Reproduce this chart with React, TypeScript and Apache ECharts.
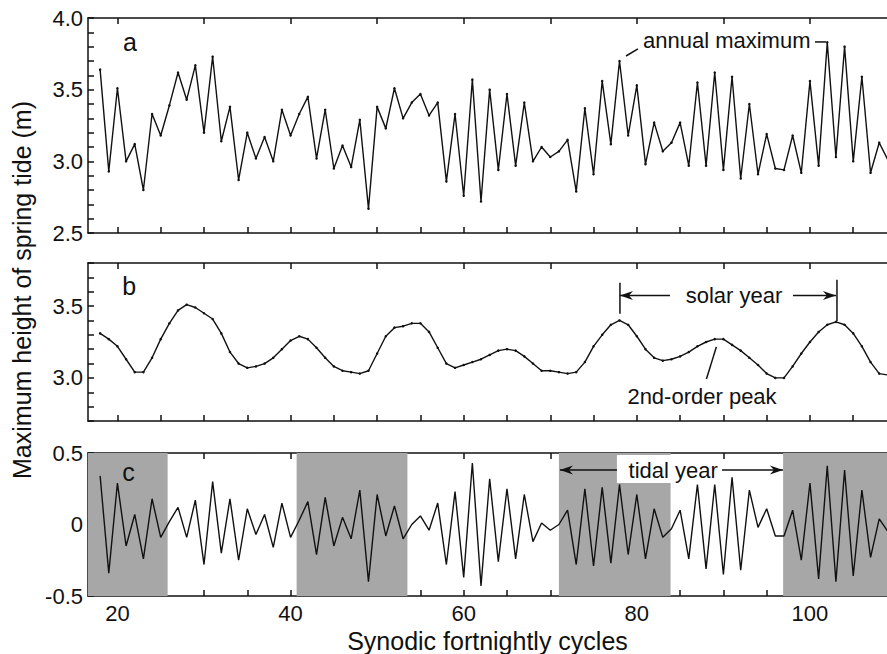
import React, { useEffect, useRef } from "react";
import * as echarts from "echarts";

// Synodic fortnightly cycle numbers (x values)
const cycles = [
  18, 19, 20, 21, 22, 23, 24, 25, 26, 27, 28, 29, 30, 31, 32, 33, 34, 35, 36, 37,
  38, 39, 40, 41, 42, 43, 44, 45, 46, 47, 48, 49, 50, 51, 52, 53, 54, 55, 56, 57,
  58, 59, 60, 61, 62, 63, 64, 65, 66, 67, 68, 69, 70, 71, 72, 73, 74, 75, 76, 77,
  78, 79, 80, 81, 82, 83, 84, 85, 86, 87, 88, 89, 90, 91, 92, 93, 94, 95, 96, 97,
  98, 99, 100, 101, 102, 103, 104, 105, 106, 107, 108, 109,
];

// Panel a: maximum height of spring tide (m)
const springMax = [
  3.64, 2.93, 3.51, 3.0, 3.12, 2.8, 3.33, 3.18, 3.39, 3.62, 3.43, 3.67, 3.2, 3.73, 3.14, 3.38,
  2.87, 3.2, 3.02, 3.17, 3.0, 3.36, 3.18, 3.33, 3.45, 3.02, 3.36, 2.95, 3.11, 2.96, 3.29, 2.67,
  3.38, 3.23, 3.51, 3.3, 3.41, 3.47, 3.32, 3.41, 2.86, 3.33, 2.76, 3.57, 2.72, 3.5, 2.94, 3.47,
  2.97, 3.41, 3.0, 3.1, 3.03, 3.07, 3.15, 2.79, 3.37, 2.91, 3.56, 3.12, 3.7, 3.18, 3.53, 2.98,
  3.27, 3.07, 3.13, 3.27, 2.97, 3.55, 2.97, 3.62, 2.94, 3.59, 2.88, 3.4, 2.91, 3.19, 2.95, 2.94,
  3.18, 2.92, 3.56, 2.97, 3.83, 3.03, 3.8, 3.0, 3.59, 2.92, 3.13, 3.01,
];

// Panel b: smoothed series
const smoothed = [
  3.31, 3.27, 3.22, 3.13, 3.04, 3.04, 3.14, 3.27, 3.38, 3.47, 3.51, 3.49, 3.45, 3.41, 3.31, 3.18,
  3.1, 3.07, 3.08, 3.1, 3.14, 3.2, 3.26, 3.29, 3.27, 3.21, 3.14, 3.08, 3.05, 3.04, 3.03, 3.05,
  3.17, 3.29, 3.35, 3.36, 3.38, 3.38, 3.32, 3.21, 3.1, 3.07, 3.09, 3.11, 3.13, 3.16, 3.19, 3.2,
  3.19, 3.15, 3.1, 3.05, 3.05, 3.04, 3.03, 3.04, 3.11, 3.22, 3.3, 3.37, 3.4, 3.37, 3.29, 3.2,
  3.14, 3.12, 3.13, 3.15, 3.18, 3.22, 3.25, 3.27, 3.27, 3.23, 3.19, 3.14, 3.09, 3.03, 3.0, 3.0,
  3.08, 3.17, 3.25, 3.32, 3.37, 3.39, 3.37, 3.31, 3.22, 3.11, 3.03, 3.02,
];

// Panel c: residual (a - b)
const residual = [
  0.34, -0.34, 0.29, -0.15, 0.07, -0.24, 0.18, -0.09, 0.02, 0.12, -0.09, 0.17, -0.28, 0.3, -0.2, 0.18,
  -0.25, 0.11, -0.07, 0.07, -0.16, 0.15, -0.09, 0.03, 0.16, -0.21, 0.19, -0.15, 0.05, -0.1, 0.24, -0.4,
  0.21, -0.08, 0.13, -0.1, 0.0, 0.06, -0.04, 0.15, -0.28, 0.23, -0.37, 0.43, -0.43, 0.32, -0.26, 0.25,
  -0.24, 0.21, -0.12, 0.01, -0.04, 0.0, 0.1, -0.28, 0.25, -0.29, 0.26, -0.27, 0.28, -0.21, 0.21, -0.24,
  0.11, -0.09, -0.03, 0.1, -0.24, 0.28, -0.31, 0.28, -0.35, 0.33, -0.32, 0.24, -0.02, 0.11, -0.08, -0.08,
  0.1, -0.25, 0.29, -0.38, 0.41, -0.4, 0.38, -0.36, 0.24, -0.23, 0.04, -0.05,
];

// Shaded half tidal-year intervals (cycle ranges)
const shadedStart = [16.6, 40.7, 71.0, 96.9];
const shadedEnd = [25.8, 53.5, 83.9, 108.9];

const xTicks = [20, 25, 30, 35, 40, 45, 50, 55, 60, 65, 70, 75, 80, 85, 90, 95, 100, 105];
const xTopTicks = [20, 30, 40, 50, 60, 70, 80, 90, 100];
const xLabels = [20, 40, 60, 80, 100];
const yTicksA = [2.5, 2.6, 2.7, 2.8, 2.9, 3.0, 3.1, 3.2, 3.3, 3.4, 3.5, 3.6, 3.7, 3.8, 3.9, 4.0];
const yLabelsA = [2.5, 3.0, 3.5, 4.0];
const yTicksB = [2.7, 2.8, 2.9, 3.0, 3.1, 3.2, 3.3, 3.4, 3.5, 3.6, 3.7, 3.8];
const yLabelsB = [3.0, 3.5];
const yTicksC = [-0.5, -0.4, -0.3, -0.2, -0.1, 0, 0.1, 0.2, 0.3, 0.4, 0.5];
const yLabelsC = [-0.5, 0, 0.5];

const X_MIN = 16.6;
const X_MAX = 108.9;
const FONT = "'Liberation Sans', Arial, Helvetica, sans-serif";
const INK = "#111";

function xAxisPair(gridIndex: number, withLabels: boolean) {
  const lineStyle = { color: INK, width: 1.5 };
  return [
    {
      type: "value",
      gridIndex,
      position: "bottom",
      min: X_MIN,
      max: X_MAX,
      axisLine: { show: true, onZero: false, lineStyle },
      axisTick: { show: true, inside: true, length: 6, customValues: xTicks, lineStyle },
      axisLabel: {
        show: withLabels,
        customValues: xLabels,
        color: INK,
        fontSize: 22,
        fontFamily: FONT,
        margin: 6,
      },
      splitLine: { show: false },
      name: withLabels ? "Synodic fortnightly cycles" : "",
      nameLocation: "middle",
      nameGap: 32,
      nameTextStyle: { color: INK, fontSize: 25, fontFamily: FONT },
    },
    {
      type: "value",
      gridIndex,
      position: "top",
      min: X_MIN,
      max: X_MAX,
      axisLine: { show: true, onZero: false, lineStyle },
      axisTick: { show: true, inside: true, length: 6, customValues: xTopTicks, lineStyle },
      axisLabel: { show: false },
      splitLine: { show: false },
    },
  ];
}

function yAxis(gridIndex: number, min: number, max: number, ticks: number[], labels: number[]) {
  const lineStyle = { color: INK, width: 1.5 };
  return {
    type: "value",
    gridIndex,
    position: "left",
    min,
    max,
    axisLine: { show: true, onZero: false, lineStyle },
    axisTick: { show: true, inside: true, length: 6, customValues: ticks, lineStyle },
    axisLabel: {
      show: true,
      customValues: labels,
      color: INK,
      fontSize: 22,
      fontFamily: FONT,
      margin: 5,
      formatter: (v: number) => (Math.abs(v) < 1e-9 ? "0" : v.toFixed(1)),
    },
    splitLine: { show: false },
  };
}

export default function App() {
  const ref = useRef<HTMLDivElement>(null);

  useEffect(() => {
    if (!ref.current) return;
    const chart = echarts.init(ref.current, undefined, { renderer: "svg" });

    const lineStyle = { color: INK, width: 1.4 };
    const option: any = {
      animation: false,
      backgroundColor: "#fff",
      grid: [
        { left: 88, right: 0, top: 18, height: 215 },
        { left: 88, right: 0, top: 263, height: 158 },
        { left: 88, right: 0, top: 453, height: 143 },
      ],
      xAxis: [...xAxisPair(0, false), ...xAxisPair(1, false), ...xAxisPair(2, true)],
      yAxis: [
        yAxis(0, 2.5, 4.0, yTicksA, yLabelsA),
        yAxis(1, 2.7, 3.8, yTicksB, yLabelsB),
        yAxis(2, -0.5, 0.5, yTicksC, yLabelsC),
      ],
      series: [
        {
          type: "line",
          xAxisIndex: 0,
          yAxisIndex: 0,
          data: cycles.map((c, i) => [c, springMax[i]]),
          symbol: "circle",
          symbolSize: 2.5,
          itemStyle: { color: INK },
          lineStyle,
          z: 3,
        },
        {
          type: "line",
          xAxisIndex: 2,
          yAxisIndex: 1,
          data: cycles.map((c, i) => [c, smoothed[i]]),
          symbol: "circle",
          symbolSize: 2.5,
          itemStyle: { color: INK },
          lineStyle,
          z: 3,
        },
        {
          type: "line",
          xAxisIndex: 4,
          yAxisIndex: 2,
          data: cycles.map((c, i) => [c, residual[i]]),
          showSymbol: false,
          lineStyle,
          z: 3,
          markArea: {
            silent: true,
            itemStyle: { color: "#a7a7a7", opacity: 1 },
            data: shadedStart.map((s, i) => [{ xAxis: s }, { xAxis: shadedEnd[i] }]),
          },
        },
      ],
    };
    chart.setOption(option);

    const pA = (x: number, y: number) => chart.convertToPixel({ xAxisIndex: 0, yAxisIndex: 0 }, [x, y]) as number[];
    const pB = (x: number, y: number) => chart.convertToPixel({ xAxisIndex: 2, yAxisIndex: 1 }, [x, y]) as number[];
    const pC = (x: number, y: number) => chart.convertToPixel({ xAxisIndex: 4, yAxisIndex: 2 }, [x, y]) as number[];

    const txt = (p: number[], text: string, size: number, align: string) => ({
      type: "text",
      x: p[0],
      y: p[1],
      z: 100,
      style: {
        text,
        fill: INK,
        font: `${size}px ${FONT}`,
        align,
        verticalAlign: "middle",
      },
    });
    const seg = (a: number[], b: number[]) => ({
      type: "line",
      z: 100,
      shape: { x1: a[0], y1: a[1], x2: b[0], y2: b[1] },
      style: { stroke: INK, lineWidth: 1.5 },
    });
    const head = (tip: number[], dir: number) => ({
      type: "polygon",
      z: 100,
      shape: {
        points: [
          [tip[0], tip[1]],
          [tip[0] - dir * 13, tip[1] - 4.5],
          [tip[0] - dir * 9, tip[1]],
          [tip[0] - dir * 13, tip[1] + 4.5],
        ],
      },
      style: { fill: INK },
    });

    const sl1 = pB(78.05, 3.663), sl2 = pB(78.05, 3.446);
    const sr1 = pB(103.12, 3.683), sr2 = pB(103.12, 3.397);
    const sy = 3.574;
    const ty = 0.381;

    const graphic = [
      txt(pA(20.64, 3.83), "a", 25, "left"),
      txt(pB(20.55, 3.64), "b", 25, "left"),
      txt(pC(20.55, 0.367), "c", 25, "left"),
      txt(pA(80.71, 3.84), "annual maximum", 22, "left"),
      seg(pA(78.75, 3.735), pA(80.13, 3.784)),
      seg(pA(100.58, 3.833), pA(101.85, 3.833)),
      seg(sl1, sl2),
      seg(sr1, sr2),
      seg(pB(78.05, sy), pB(83.83, sy)),
      head(pB(78.05, sy), -1),
      seg(pB(98.04, sy), pB(103.0, sy)),
      head(pB(103.0, sy), 1),
      txt(pB(91.22, sy), "solar year", 22, "center"),
      txt(pB(87.53, 2.874), "2nd-order peak", 22, "center"),
      seg(pB(89.19, 3.216), pB(88.04, 2.993)),
      {
        type: "rect",
        z: 90,
        shape: (() => {
          const a = pC(77.7, 0.486);
          const b = pC(83.95, 0.29);
          return { x: a[0], y: a[1], width: b[0] - a[0], height: b[1] - a[1] };
        })(),
        style: { fill: "#fff" },
      },
      txt(pC(84.2, ty), "tidal year", 22, "center"),
      seg(pC(71.12, ty), pC(77.7, ty)),
      head(pC(71.12, ty), -1),
      seg(pC(89.84, ty), pC(96.88, ty)),
      head(pC(96.88, ty), 1),
      {
        type: "text",
        x: 22,
        y: 290,
        rotation: Math.PI / 2,
        z: 100,
        style: {
          text: "Maximum height of spring tide (m)",
          fill: INK,
          font: `25px ${FONT}`,
          align: "center",
          verticalAlign: "middle",
        },
      },
    ];
    chart.setOption({ graphic });

    return () => chart.dispose();
  }, []);

  return (
    <div
      ref={ref}
      style={{ position: "fixed", left: 0, top: 0, width: 887, height: 654, background: "#fff" }}
    />
  );
}
